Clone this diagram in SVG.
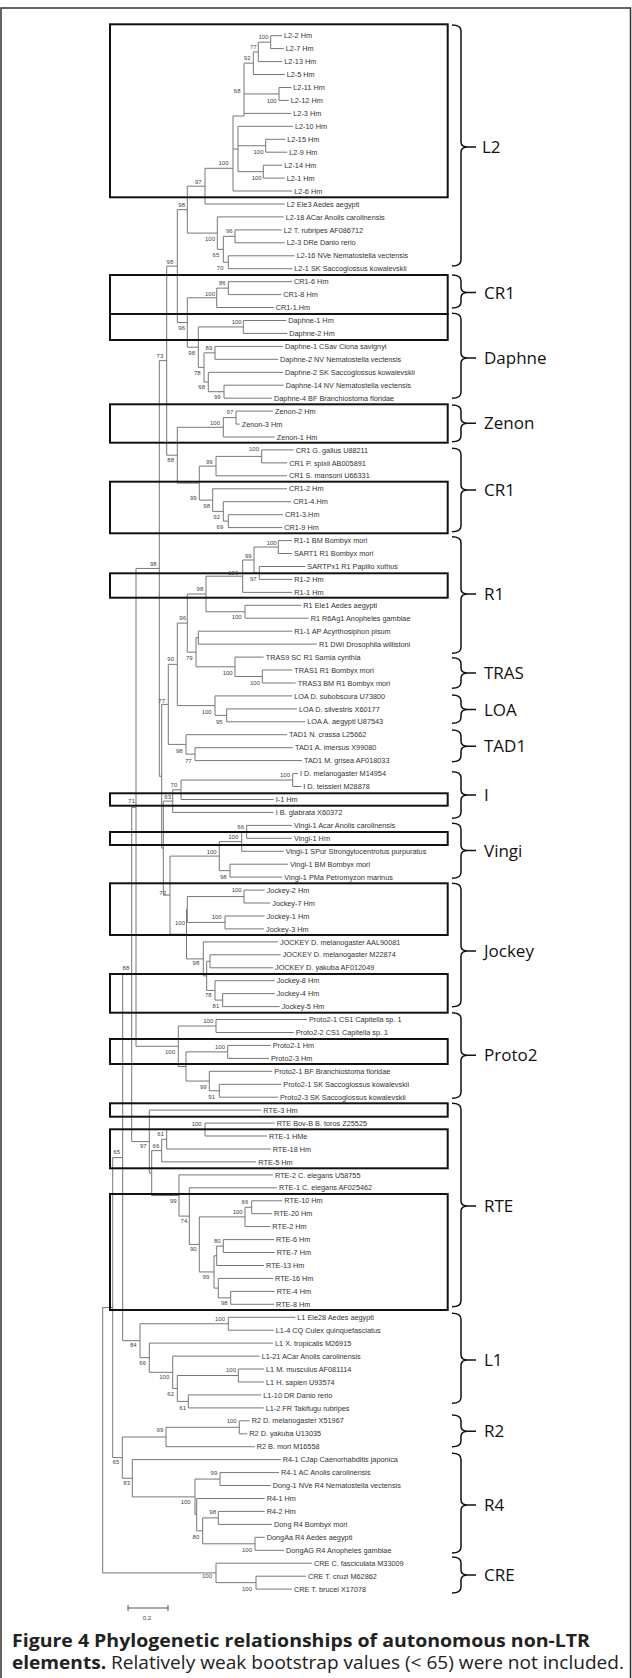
<svg xmlns="http://www.w3.org/2000/svg" width="632" height="1678" viewBox="0 0 632 1678">
<style>
.t{font-family:"Liberation Sans",Arial,sans-serif;font-size:7.3px;fill:#333}
.b{font-family:"Liberation Sans",Arial,sans-serif;font-size:6px;fill:#444;text-anchor:end}
.tr path{fill:none;stroke:#777;stroke-width:1}
.bx rect{fill:none;stroke:#111;stroke-width:2}
.br{fill:none;stroke:#111;stroke-width:1.5}
.cl{font-family:"Open Sans","Liberation Sans",sans-serif;font-size:17px;fill:#111}
.cap{font-family:"Open Sans","Liberation Sans",sans-serif;font-size:18px;fill:#222}
</style>
<rect x="1" y="8" width="629.5" height="1680" fill="none" stroke="#333" stroke-width="1.5"/>
<g id="connectors" class="tr">
<path d="M282 35.7H270.7V48.6H283.7"/>
<path d="M270.7 42.15H258.3V61.6H282.3"/>
<path d="M258.3 51.9H253.3V74.5H284.7"/>
<path d="M291.3 87.5H279V100.4H288.7"/>
<path d="M253.3 63.2H244V116H233M244 93.95H279M244 113.4H291.3"/>
<path d="M285.3 139.3H265.7V152.2H287.3"/>
<path d="M282.3 165.2H263.3V178.1H284.7"/>
<path d="M293 126.3H238V171.65H263.3M238 145.75H265.7"/>
<path d="M233 116V191H292.3M233 149H238"/>
<path d="M233 168.3H205V204H284.7"/>
<path d="M281.7 229.9H235V242.8H284.7"/>
<path d="M294.7 255.8H228.3V268.7H292.3"/>
<path d="M235 236.35H223.3V262.25H228.3"/>
<path d="M283.7 216.9H217.3V249.3H223.3"/>
<path d="M205 186.2H187.3V233.1H217.3"/>
<path d="M292 281.7H228.3V294.6H281.3"/>
<path d="M228.3 288.15H216.7V307.5H273.7"/>
<path d="M286.3 320.5H243.3V333.4H287.3"/>
<path d="M283 346.4H215V359.3H278"/>
<path d="M283.7 385.2H224V398.2H272"/>
<path d="M283 372.3H208.3V391.7H224"/>
<path d="M215 352.85H204V382H208.3"/>
<path d="M243.3 326.95H198.3V367.4H204"/>
<path d="M216.7 297.8H187.3V347.2H198.3"/>
<path d="M187.3 209.65H177.3V322.5H187.3"/>
<path d="M273 411.1H236V424.1H239.7"/>
<path d="M236 417.6H223.3V437H274.7"/>
<path d="M293.7 449.9H261.7V462.9H287.3"/>
<path d="M261.7 456.4H216V475.8H287"/>
<path d="M283 514.7H228.3V527.6H282.3"/>
<path d="M291.3 501.7H223.3V521.15H228.3"/>
<path d="M287 488.8H212.7V511.4H223.3"/>
<path d="M216 466.1H199.3V500.1H212.7"/>
<path d="M223.3 427.3H177.3V483.1H199.3"/>
<path d="M177.3 266.1H166.7V455.2H177.3"/>
<path d="M292 540.6H278.3V553.5H292"/>
<path d="M305.3 566.5H259.3V579.4H292.3"/>
<path d="M278.3 547.05H254V572.95H259.3"/>
<path d="M254 560H242.7V592.4H292.3"/>
<path d="M301.3 605.3H245V618.2H308.7"/>
<path d="M242.7 576.2H206V611.75H245"/>
<path d="M292.3 631.2H198.3V644.1H317"/>
<path d="M292.3 670H262.3V683H295.7"/>
<path d="M263.7 657.1H235V676.5H262.3"/>
<path d="M198.3 637.65H196V666.8H235"/>
<path d="M206 594H187.3V652.2H196"/>
<path d="M297 708.9H226.7V721.8H305.3"/>
<path d="M292.3 695.9H215V715.35H226.7"/>
<path d="M187.3 623.1H177.3V705.6H215"/>
<path d="M293 747.7H195V760.6H302"/>
<path d="M287 734.7H186V754.15H195"/>
<path d="M177.3 664.35H168.3V744.4H186"/>
<path d="M298 773.6H292.7V786.5H301.3"/>
<path d="M292.7 780.05H181V799.5H273.7"/>
<path d="M181 789.8H172.7V812.4H273.7"/>
<path d="M292 825.4H246.7V838.3H292"/>
<path d="M246.7 831.85H241.7V851.3H283.7"/>
<path d="M288 864.2H230V877.1H282.3"/>
<path d="M241.7 841.6H219.3V870.65H230"/>
<path d="M264.7 890.1H244V903H270.3"/>
<path d="M264.7 916H225V928.9H264"/>
<path d="M244 896.55H187.3V922.45H225"/>
<path d="M280.7 954.8H210V967.8H273"/>
<path d="M274.7 993.6H222.7V1006.6H279.7"/>
<path d="M274.7 980.7H215V1000.1H222.7"/>
<path d="M210 961.3H206.7V990.4H215"/>
<path d="M278 941.9H203.3V975.85H206.7"/>
<path d="M187.3 909.5H186.5V958.9H203.3"/>
<path d="M219.3 856.1H170V934.2H186.5"/>
<path d="M172.7 801.1H163.3V895.15H170"/>
<path d="M168.3 704.4H161.7V848.1H163.3"/>
<path d="M166.7 360.65H159.3V776.25H161.7"/>
<path d="M307 1019.5H216V1032.5H293.7"/>
<path d="M270.7 1045.4H227.7V1058.4H269"/>
<path d="M281.3 1084.3H219.3V1097.2H278"/>
<path d="M272.3 1071.3H209.3V1090.75H219.3"/>
<path d="M227.7 1051.9H186V1081.05H209.3"/>
<path d="M216 1026H178.3V1066.5H186"/>
<path d="M159.3 568.45H136V1046.25H178.3"/>
<path d="M274.7 1123.1H205V1136H267"/>
<path d="M205 1129.55H166.7V1149H270.7"/>
<path d="M166.7 1139.3H161.7V1161.9H256.3"/>
<path d="M282.3 1200.8H251.7V1213.7H272"/>
<path d="M251.7 1207.25H245V1226.6H270.3"/>
<path d="M274 1239.6H223.3V1252.5H274.7"/>
<path d="M223.3 1246.05H216.7V1265.5H264"/>
<path d="M274.7 1291.4H230.7V1304.3H274"/>
<path d="M273 1278.4H218.3V1297.85H230.7"/>
<path d="M216.7 1255.8H214V1288.1H218.3"/>
<path d="M245 1216.9H199.3V1271.95H214"/>
<path d="M277 1187.8H189.3V1244.4H199.3"/>
<path d="M273 1174.9H179V1216.1H189.3"/>
<path d="M161.7 1150.6H151.7V1195.5H179"/>
<path d="M261.3 1110.1H149.3V1173.05H151.7"/>
<path d="M136 807.35H131.7V1141.6H149.3"/>
<path d="M295.3 1317.3H228.3V1330.2H273.7"/>
<path d="M264 1369H238.3V1382H264"/>
<path d="M261.3 1394.9H188.3V1407.9H263.7"/>
<path d="M238.3 1375.5H177.3V1401.4H188.3"/>
<path d="M259.7 1356.1H172.7V1388.45H177.3"/>
<path d="M273 1343.1H149.3V1372.3H172.7"/>
<path d="M228.3 1323.75H140V1357.7H149.3"/>
<path d="M131.7 974.5H122.7V1340.7H140"/>
<path d="M249.7 1420.8H239.3V1433.8H247.3"/>
<path d="M239.3 1427.3H166V1446.7H254.7"/>
<path d="M279 1472.6H220V1485.5H270.7"/>
<path d="M264.7 1511.4H218.3V1524.4H272"/>
<path d="M264.7 1537.3H255V1550.3H284"/>
<path d="M218.3 1517.9H202.7V1543.8H255"/>
<path d="M264.7 1498.5H196.7V1530.85H202.7"/>
<path d="M220 1479.05H195V1514.7H196.7"/>
<path d="M280.7 1459.6H132.3V1496.9H195"/>
<path d="M166 1437H122.3V1478.25H132.3"/>
<path d="M122.7 1157.6H112.7V1457.6H122.3"/>
<path d="M306 1576.2H256V1589.1H292"/>
<path d="M312 1563.2H216V1582.65H256"/>
<path d="M112.7 1307.6H102.7V1572.9H216"/>
</g>
<g id="boxes" class="bx">
<rect x="110" y="24.3" width="337.7" height="173"/>
<rect x="110" y="275" width="337.7" height="39"/>
<rect x="110" y="314" width="337.7" height="26"/>
<rect x="110" y="404.3" width="337.7" height="38.4"/>
<rect x="110" y="481.7" width="337.7" height="51.6"/>
<rect x="110" y="573.3" width="337.7" height="24.4"/>
<rect x="110" y="793.3" width="337.7" height="12.4"/>
<rect x="110" y="832" width="337.7" height="13"/>
<rect x="110" y="883.3" width="337.7" height="51.7"/>
<rect x="110" y="974" width="337.7" height="38.7"/>
<rect x="110" y="1039" width="337.7" height="25"/>
<rect x="110" y="1103.3" width="337.7" height="13.4"/>
<rect x="110" y="1129.3" width="337.7" height="39"/>
<rect x="110" y="1194" width="337.7" height="116"/>
</g>
<g id="bootstrap" class="b">
<text x="268.5" y="38.8">100</text><text x="256.7" y="48.8">77</text><text x="250.5" y="60.4">92</text><text x="240.5" y="93.1">68</text><text x="276.7" y="102.5">100</text>
<text x="263.5" y="154.4">100</text><text x="228.5" y="165.4">100</text><text x="261.7" y="179.8">100</text><text x="201.7" y="183.8">97</text><text x="185" y="207.1">98</text>
<text x="232.7" y="232.8">96</text><text x="215" y="241.1">100</text><text x="219.3" y="257.1">65</text><text x="173.3" y="263.8">98</text><text x="223.5" y="269.8">70</text>
<text x="225.7" y="284.8">86</text><text x="215" y="296.1">100</text><text x="241.7" y="324.4">100</text><text x="185" y="330.4">96</text><text x="212.3" y="350.4">89</text>
<text x="195" y="354.8">98</text><text x="163.3" y="357.8">73</text><text x="200.7" y="375.4">78</text><text x="205" y="389.4">68</text><text x="220.7" y="399.4">99</text>
<text x="233.3" y="413.8">97</text><text x="220" y="424.6">100</text><text x="259" y="451.4">100</text><text x="174" y="462.1">88</text><text x="212.7" y="464.4">99</text>
<text x="196.7" y="500.4">99</text><text x="210" y="508.1">98</text><text x="220" y="519.4">92</text><text x="223.3" y="529.4">69</text><text x="276.7" y="544.8">100</text>
<text x="251.7" y="557.8">99</text><text x="156.7" y="566.1">98</text><text x="238.3" y="574.8">100</text><text x="256.7" y="581.1">97</text><text x="203.3" y="591.4">98</text>
<text x="241.7" y="619.4">100</text><text x="186" y="620.4">96</text><text x="192.7" y="659.8">79</text><text x="174" y="661.4">90</text><text x="232.7" y="674.8">100</text>
<text x="260" y="684.8">100</text><text x="165" y="702.6">77</text><text x="211.7" y="713.8">100</text><text x="222.7" y="723.8">95</text><text x="182.7" y="753.1">98</text>
<text x="191.7" y="763.1">77</text><text x="290" y="777.4">100</text><text x="177.3" y="787.1">70</text><text x="171" y="798.8">63</text><text x="135" y="803.1">71</text>
<text x="244" y="829.4">66</text><text x="238.3" y="838.8">100</text><text x="216.7" y="853.8">100</text><text x="226.7" y="878.8">98</text><text x="241.7" y="892.1">100</text>
<text x="166" y="894.8">73</text><text x="221.7" y="918.8">100</text><text x="185" y="924.8">100</text><text x="199.3" y="965.4">98</text><text x="129.3" y="970.4">88</text>
<text x="211.7" y="997.1">78</text><text x="219.3" y="1007.8">81</text><text x="213.3" y="1022.8">100</text><text x="225" y="1048.8">100</text><text x="175" y="1053.8">100</text>
<text x="206.7" y="1088.8">99</text><text x="215" y="1098.8">91</text><text x="201.7" y="1126.1">100</text><text x="164" y="1136.1">61</text><text x="146.7" y="1148.1">97</text>
<text x="159.3" y="1148.1">66</text><text x="120" y="1154.4">65</text><text x="176.7" y="1203.1">99</text><text x="248.3" y="1203.8">66</text><text x="242.7" y="1213.8">100</text>
<text x="187.3" y="1223.1">74</text><text x="220.7" y="1242.8">80</text><text x="196.7" y="1251.4">90</text><text x="209.3" y="1278.8">99</text><text x="227.7" y="1305.4">98</text>
<text x="225" y="1321.4">100</text><text x="136.7" y="1347.1">84</text><text x="146" y="1365.4">66</text><text x="236" y="1372.1">100</text><text x="169.3" y="1379.4">100</text>
<text x="174" y="1396.1">62</text><text x="186" y="1409.6">61</text><text x="236.7" y="1422.8">100</text><text x="163.3" y="1432.1">99</text><text x="119.3" y="1464.4">65</text>
<text x="217.3" y="1474.8">99</text><text x="130" y="1485.4">83</text><text x="190.7" y="1503.8">100</text><text x="216" y="1513.8">98</text><text x="199.3" y="1538.8">80</text>
<text x="252" y="1552.1">100</text><text x="212" y="1578.1">100</text><text x="252" y="1590.6">100</text>
</g>
<g id="clade-L2">
<text class="t" x="284" y="38.3">L2-2 Hm</text><text class="t" x="285.7" y="51.2">L2-7 Hm</text><text class="t" x="284.3" y="64.2">L2-13 Hm</text><text class="t" x="286.7" y="77.1">L2-5 Hm</text>
<text class="t" x="293.3" y="90.1">L2-11 Hm</text><text class="t" x="290.7" y="103">L2-12 Hm</text><text class="t" x="293.3" y="116">L2-3 Hm</text><text class="t" x="295" y="128.9">L2-10 Hm</text>
<text class="t" x="287.3" y="141.9">L2-15 Hm</text><text class="t" x="289.3" y="154.8">L2-9 Hm</text><text class="t" x="284.3" y="167.8">L2-14 Hm</text><text class="t" x="286.7" y="180.7">L2-1 Hm</text>
<text class="t" x="294.3" y="193.6">L2-6 Hm</text><text class="t" x="286.7" y="206.6">L2 Ele3 Aedes aegypti</text><text class="t" x="285.7" y="219.5">L2-18 ACar Anolis carolinensis</text>
<text class="t" x="283.7" y="232.5">L2 T. rubripes AF086712</text><text class="t" x="286.7" y="245.4">L2-3 DRe Danio rerio</text><text class="t" x="296.7" y="258.4">L2-16 NVe Nematostella vectensis</text>
<text class="t" x="294.3" y="271.3">L2-1 SK Saccoglossus kowalevskii</text>
<path class="br" d="M452 25Q461 25 461 31V142Q461 147 468 147Q461 147 461 152V260Q461 266 452 266M468 147H476"/>
<text class="cl" x="482" y="153">L2</text>
</g>
<g id="clade-CR1-a">
<text class="t" x="294" y="284.3">CR1-6 Hm</text><text class="t" x="283.3" y="297.2">CR1-8 Hm</text><text class="t" x="275.7" y="310.1">CR1-1.Hm</text>
<path class="br" d="M452 275Q461 275 461 281V287.5Q461 292.5 468 292.5Q461 292.5 461 297.5V302Q461 308 452 308M468 292.5H476"/>
<text class="cl" x="484" y="298.5">CR1</text>
</g>
<g id="clade-Daphne">
<text class="t" x="288.3" y="323.1">Daphne-1 Hm</text><text class="t" x="289.3" y="336">Daphne-2 Hm</text><text class="t" x="285" y="349">Daphne-1 CSav Ciona savignyi</text>
<text class="t" x="280" y="361.9">Daphne-2 NV Nematostella vectensis</text><text class="t" x="285" y="374.9">Daphne-2 SK Saccoglossus kowalevskii</text>
<text class="t" x="285.7" y="387.8">Daphne-14 NV Nematostella vectensis</text><text class="t" x="274" y="400.8">Daphne-4 BF Branchiostoma floridae</text>
<path class="br" d="M452 313.3Q461 313.3 461 319.3V353Q461 358 468 358Q461 358 461 363V392.3Q461 398.3 452 398.3M468 358H476"/>
<text class="cl" x="484" y="364">Daphne</text>
</g>
<g id="clade-Zenon">
<text class="t" x="275" y="413.7">Zenon-2 Hm</text><text class="t" x="241.7" y="426.7">Zenon-3 Hm</text><text class="t" x="276.7" y="439.6">Zenon-1 Hm</text>
<path class="br" d="M452 405Q461 405 461 411V418.3Q461 423.3 468 423.3Q461 423.3 461 428.3V435.7Q461 441.7 452 441.7M468 423.3H476"/>
<text class="cl" x="484" y="429.3">Zenon</text>
</g>
<g id="clade-CR1-b">
<text class="t" x="295.7" y="452.5">CR1 G. gallus U88211</text><text class="t" x="289.3" y="465.5">CR1 P. spixii AB005891</text><text class="t" x="289" y="478.4">CR1 S. mansoni U66331</text>
<text class="t" x="289" y="491.4">CR1-2 Hm</text><text class="t" x="293.3" y="504.3">CR1-4.Hm</text><text class="t" x="285" y="517.3">CR1-3.Hm</text><text class="t" x="284.3" y="530.2">CR1-9 Hm</text>
<path class="br" d="M452 448.3Q461 448.3 461 454.3V485Q461 490 468 490Q461 490 461 495V525.7Q461 531.7 452 531.7M468 490H476"/>
<text class="cl" x="484" y="496">CR1</text>
</g>
<g id="clade-R1">
<text class="t" x="294" y="543.2">R1-1 BM Bombyx mori</text><text class="t" x="294" y="556.1">SART1 R1 Bombyx mori</text><text class="t" x="307.3" y="569.1">SARTPx1 R1 Papilio xuthus</text>
<text class="t" x="294.3" y="582">R1-2 Hm</text><text class="t" x="294.3" y="595">R1-1 Hm</text><text class="t" x="303.3" y="607.9">R1 Ele1 Aedes aegypti</text>
<text class="t" x="310.7" y="620.8">R1 R6Ag1 Anopheles gambiae</text><text class="t" x="294.3" y="633.8">R1-1 AP Acyrthosiphon pisum</text><text class="t" x="319" y="646.7">R1 DWi Drosophila willistoni</text>
<path class="br" d="M452 536.7Q461 536.7 461 542.7V589Q461 594 468 594Q461 594 461 599V647.3Q461 653.3 452 653.3M468 594H476"/>
<text class="cl" x="484" y="600">R1</text>
</g>
<g id="clade-TRAS">
<text class="t" x="265.7" y="659.7">TRAS9 SC R1 Samia cynthia</text><text class="t" x="294.3" y="672.6">TRAS1 R1 Bombyx mori</text><text class="t" x="297.7" y="685.6">TRAS3 BM R1 Bombyx mori</text>
<path class="br" d="M452 657.7Q461 657.7 461 663.7V668Q461 673 468 673Q461 673 461 678V682.3Q461 688.3 452 688.3M468 673H476"/>
<text class="cl" x="484" y="679">TRAS</text>
</g>
<g id="clade-LOA">
<text class="t" x="294.3" y="698.5">LOA D. subobscura U73800</text><text class="t" x="299" y="711.5">LOA D. silvestris X60177</text><text class="t" x="307.3" y="724.4">LOA A. aegypti U87543</text>
<path class="br" d="M452 695Q461 695 461 701V704.5Q461 709.5 468 709.5Q461 709.5 461 714.5V717.3Q461 723.3 452 723.3M468 709.5H476"/>
<text class="cl" x="484" y="715.5">LOA</text>
</g>
<g id="clade-TAD1">
<text class="t" x="289" y="737.3">TAD1 N. crassa L25662</text><text class="t" x="295" y="750.3">TAD1 A. imersus X99080</text><text class="t" x="304" y="763.2">TAD1 M. grisea AF018033</text>
<path class="br" d="M452 730Q461 730 461 736V741.3Q461 746.3 468 746.3Q461 746.3 461 751.3V755.7Q461 761.7 452 761.7M468 746.3H476"/>
<text class="cl" x="484" y="752.3">TAD1</text>
</g>
<g id="clade-I">
<text class="t" x="300" y="776.2">I D. melanogaster M14954</text><text class="t" x="303.3" y="789.1">I D. teissieri M28878</text><text class="t" x="275.7" y="802.1">I-1 Hm</text><text class="t" x="275.7" y="815">I B. glabrata X60372</text>
<path class="br" d="M452 771.7Q461 771.7 461 777.7V790Q461 795 468 795Q461 795 461 800V812.3Q461 818.3 452 818.3M468 795H476"/>
<text class="cl" x="484" y="801">I</text>
</g>
<g id="clade-Vingi">
<text class="t" x="294" y="828">Vingi-1 Acar Anolis carolinensis</text><text class="t" x="294" y="840.9">Vingi-1 Hm</text><text class="t" x="285.7" y="853.9">Vingi-1 SPur Strongylocentrotus purpuratus</text>
<text class="t" x="290" y="866.8">Vingi-1 BM Bombyx mori</text><text class="t" x="284.3" y="879.7">Vingi-1 PMa Petromyzon marinus</text>
<path class="br" d="M452 823.3Q461 823.3 461 829.3V845.5Q461 850.5 468 850.5Q461 850.5 461 855.5V872.3Q461 878.3 452 878.3M468 850.5H476"/>
<text class="cl" x="484" y="856.5">Vingi</text>
</g>
<g id="clade-Jockey">
<text class="t" x="266.7" y="892.7">Jockey-2 Hm</text><text class="t" x="272.3" y="905.6">Jockey-7 Hm</text><text class="t" x="266.7" y="918.6">Jockey-1 Hm</text><text class="t" x="266" y="931.5">Jockey-3 Hm</text>
<text class="t" x="280" y="944.5">JOCKEY D. melanogaster AAL90081</text><text class="t" x="282.7" y="957.4">JOCKEY D. melanogaster M22874</text><text class="t" x="275" y="970.4">JOCKEY D. yakuba AF012049</text>
<text class="t" x="276.7" y="983.3">Jockey-8 Hm</text><text class="t" x="276.7" y="996.2">Jockey-4 Hm</text><text class="t" x="281.7" y="1009.2">Jockey-5 Hm</text>
<path class="br" d="M452 883.3Q461 883.3 461 889.3V946Q461 951 468 951Q461 951 461 956V1000.7Q461 1006.7 452 1006.7M468 951H476"/>
<text class="cl" x="484" y="957">Jockey</text>
</g>
<g id="clade-Proto2">
<text class="t" x="309" y="1022.1">Proto2-1 CS1 Capitella sp. 1</text><text class="t" x="295.7" y="1035.1">Proto2-2 CS1 Capitella sp. 1</text><text class="t" x="272.7" y="1048">Proto2-1 Hm</text>
<text class="t" x="271" y="1061">Proto2-3 Hm</text><text class="t" x="274.3" y="1073.9">Proto2-1 BF Branchiostoma floridae</text><text class="t" x="283.3" y="1086.9">Proto2-1 SK Saccoglossus kowalevskii</text>
<text class="t" x="280" y="1099.8">Proto2-3 SK Saccoglossus kowalevskii</text>
<path class="br" d="M452 1012.7Q461 1012.7 461 1018.7V1050.3Q461 1055.3 468 1055.3Q461 1055.3 461 1060.3V1092.3Q461 1098.3 452 1098.3M468 1055.3H476"/>
<text class="cl" x="484" y="1061.3">Proto2</text>
</g>
<g id="clade-RTE">
<text class="t" x="263.3" y="1112.7">RTE-3 Hm</text><text class="t" x="276.7" y="1125.7">RTE Bov-B B. toros Z25525</text><text class="t" x="269" y="1138.6">RTE-1 HMe</text><text class="t" x="272.7" y="1151.6">RTE-18 Hm</text>
<text class="t" x="258.3" y="1164.5">RTE-5 Hm</text><text class="t" x="275" y="1177.5">RTE-2 C. elegans U58755</text><text class="t" x="279" y="1190.4">RTE-1 C. elegans AF025462</text>
<text class="t" x="284.3" y="1203.4">RTE-10 Hm</text><text class="t" x="274" y="1216.3">RTE-20 Hm</text><text class="t" x="272.3" y="1229.2">RTE-2 Hm</text><text class="t" x="276" y="1242.2">RTE-6 Hm</text>
<text class="t" x="276.7" y="1255.1">RTE-7 Hm</text><text class="t" x="266" y="1268.1">RTE-13 Hm</text><text class="t" x="275" y="1281">RTE-16 Hm</text><text class="t" x="276.7" y="1294">RTE-4 Hm</text><text class="t" x="276" y="1306.9">RTE-8 Hm</text>
<path class="br" d="M452 1103.3Q461 1103.3 461 1109.3V1201Q461 1206 468 1206Q461 1206 461 1211V1300.7Q461 1306.7 452 1306.7M468 1206H476"/>
<text class="cl" x="484" y="1212">RTE</text>
</g>
<g id="clade-L1">
<text class="t" x="297.3" y="1319.9">L1 Ele28 Aedes aegypti</text><text class="t" x="275.7" y="1332.8">L1-4 CQ Culex quinquefasciatus</text><text class="t" x="275" y="1345.7">L1 X. tropicalis M26915</text>
<text class="t" x="261.7" y="1358.7">L1-21 ACar Anolis carolinensis</text><text class="t" x="266" y="1371.6">L1 M. musculus AF081114</text><text class="t" x="266" y="1384.6">L1 H. sapien U93574</text>
<text class="t" x="263.3" y="1397.5">L1-10 DR Danio rerio</text><text class="t" x="265.7" y="1410.5">L1-2 FR Takifugu rubripes</text>
<path class="br" d="M452 1313.3Q461 1313.3 461 1319.3V1355Q461 1360 468 1360Q461 1360 461 1365V1397.3Q461 1403.3 452 1403.3M468 1360H476"/>
<text class="cl" x="484" y="1366">L1</text>
</g>
<g id="clade-R2">
<text class="t" x="251.7" y="1423.4">R2 D. melanogaster X51967</text><text class="t" x="249.3" y="1436.4">R2 D. yakuba U13035</text><text class="t" x="256.7" y="1449.3">R2 B. mori M16558</text>
<path class="br" d="M452 1415Q461 1415 461 1421V1426.3Q461 1431.3 468 1431.3Q461 1431.3 461 1436.3V1440.7Q461 1446.7 452 1446.7M468 1431.3H476"/>
<text class="cl" x="484" y="1437.3">R2</text>
</g>
<g id="clade-R4">
<text class="t" x="282.7" y="1462.2">R4-1 CJap Caenorhabditis japonica</text><text class="t" x="281" y="1475.2">R4-1 AC Anolis carolinensis</text><text class="t" x="272.7" y="1488.1">Dong-1 NVe R4 Nematostella vectensis</text>
<text class="t" x="266.7" y="1501.1">R4-1 Hm</text><text class="t" x="266.7" y="1514">R4-2 Hm</text><text class="t" x="274" y="1527">Dong R4 Bombyx mori</text><text class="t" x="266.7" y="1539.9">DongAa R4 Aedes aegypti</text>
<text class="t" x="286" y="1552.9">DongAG R4 Anopheles gambiae</text>
<path class="br" d="M452 1453.3Q461 1453.3 461 1459.3V1500Q461 1505 468 1505Q461 1505 461 1510V1547Q461 1553 452 1553M468 1505H476"/>
<text class="cl" x="484" y="1511">R4</text>
</g>
<g id="clade-CRE">
<text class="t" x="314" y="1565.8">CRE C. fasciculata M33009</text><text class="t" x="308" y="1578.8">CRE T. cruzi M62862</text><text class="t" x="294" y="1591.7">CRE T. brucei X17078</text>
<path class="br" d="M452 1557Q461 1557 461 1563V1570Q461 1575 468 1575Q461 1575 461 1580V1587Q461 1593 452 1593M468 1575H476"/>
<text class="cl" x="484" y="1581">CRE</text>
</g>
<g id="scale">
<path d="M128 1608H168M128 1605V1611M168 1605V1611" fill="none" stroke="#555" stroke-width="1"/>
<text class="b" x="151" y="1620">0.2</text>
</g>
<g id="caption">
<text class="cap" x="12" y="1647" font-weight="bold" textLength="578" lengthAdjust="spacingAndGlyphs">Figure 4 Phylogenetic relationships of autonomous non-LTR</text>
<text class="cap" x="12" y="1669" textLength="612" lengthAdjust="spacingAndGlyphs"><tspan font-weight="bold">elements.</tspan> Relatively weak bootstrap values (&lt; 65) were not included.</text>
</g>
</svg>
